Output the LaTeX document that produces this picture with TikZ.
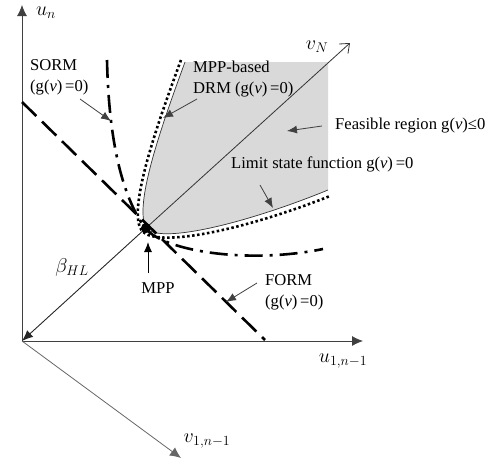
\RequirePackage{fix-cm}
\documentclass[tikz,border=0pt]{standalone}
\usepackage{fontspec}
\setmainfont{Liberation Serif}
\usetikzlibrary{arrows.meta}
\definecolor{regiongray}{RGB}{217,217,217}
\begin{document}
\begin{tikzpicture}[x=1pt,y=-1pt,
  font=\fontsize{16.6}{21}\selectfont,
  axisline/.style={draw=black!75, line width=0.8pt},
  axisarrow/.style={axisline, -{Latex[length=11pt,width=10pt]}},
  callout/.style={draw=black!75, line width=0.8pt, -{Latex[length=10pt,width=8pt]}},
  lbl/.style={inner sep=0pt},
  mathlbl/.style={inner sep=0pt, font=\fontsize{20}{24}\selectfont},
  formline/.style={line width=2.6pt, dash pattern=on 20pt off 8pt},
  sormline/.style={line width=2.6pt, dash pattern=on 18pt off 7pt on 3pt off 7pt},
  drmline/.style={line width=2.6pt, dash pattern=on 2.5pt off 2.5pt},
  lsfline/.style={draw=black!80, line width=0.7pt}]
\useasboundingbox (0,0) rectangle (499,459);

% coordinates
\coordinate (O) at (22,341);
\coordinate (mpp) at (146,228);
\coordinate (untip) at (22,5);
\coordinate (u1tip) at (363,341);
\coordinate (v1tip) at (181,458);
\coordinate (vNtip) at (350,43);

% feasible region
\fill[regiongray] (185,62) .. controls (160,130) and (134,205) .. (146,228)
   .. controls (160,245) and (250,222) .. (328,190) -- (328,62) -- cycle;
% limit state function
\draw[lsfline] (185,62) .. controls (160,130) and (134,205) .. (146,228)
   .. controls (160,245) and (250,222) .. (328,190);
% MPP-based DRM (dotted)
\draw[drmline] (181,60) .. controls (155,130) and (127,212) .. (142,231)
   .. controls (158,249) and (250,228) .. (330,196);

% axes
\draw[axisarrow] (O) -- (untip);
\draw[axisarrow] (O) -- (u1tip);
\draw[axisarrow, draw=black!60] (O) -- (v1tip);

% v_N axis and beta
\draw[draw=black!80, line width=0.8pt, -{Straight Barb[length=8pt,width=13pt]}] (mpp) -- (vNtip);
\draw[draw=black!85, line width=0.9pt, -{Latex[length=11pt,width=9pt]}] (mpp) -- (O);

% FORM line
\coordinate (formA) at (22,102);
\coordinate (formB) at (265,340);
\draw[formline] (formA) -- (formB);
% SORM curve
\draw[sormline] (107,60) .. controls (109,150) and (125,200) .. (145,228)
   .. controls (165,252) and (250,264) .. (323,249);

% MPP dot
\fill (mpp) circle (5pt);

% labels
\node[mathlbl] (un) at (46,13) {$u_n$};
\node[mathlbl] (vN) at (317,47) {$v_N$};
\node[mathlbl] (u1) at (343,361) {$u_{1,n-1}$};
\node[mathlbl] (v1) at (207,441) {$v_{1,n-1}$};
\node[mathlbl] (beta) at (72,267) {$\beta_{HL}$};

\node[lbl, anchor=west, align=left] (sorm) at (30,77) {SORM\\(g(\textit{v})\,=0)};
\node[lbl, anchor=west, align=left] (drm) at (193,79) {MPP-based\\DRM (g(\textit{v})\,=0)};
\node[lbl, anchor=west] (feas) at (335,126) {Feasible region g(\textit{v})≤0};
\node[lbl, anchor=west] (lsf) at (231,164) {Limit state function g(\textit{v})\,=0};
\node[lbl] (mpptext) at (158,288) {MPP};
\node[lbl, anchor=west, align=left] (form) at (265,292) {FORM\\(g(\textit{v})\,=0)};

% callout arrows
\coordinate (sormS) at (80,99);
\coordinate (sormT) at (111,121);
\coordinate (drmS) at (197,99);
\coordinate (drmT) at (163,118);
\coordinate (feasS) at (322,126);
\coordinate (feasT) at (287,131);
\coordinate (lsfS) at (260,185);
\coordinate (lsfT) at (273,208);
\coordinate (mppS) at (148,273);
\coordinate (mppT) at (148,242);
\coordinate (formS) at (257,283);
\coordinate (formT) at (226,302);
\draw[callout] (sormS) -- (sormT);
\draw[callout] (drmS) -- (drmT);
\draw[callout] (feasS) -- (feasT);
\draw[callout] (lsfS) -- (lsfT);
\draw[callout, draw=black, line width=1pt] (mppS) -- (mppT);
\draw[callout] (formS) -- (formT);
\end{tikzpicture}
\end{document}
